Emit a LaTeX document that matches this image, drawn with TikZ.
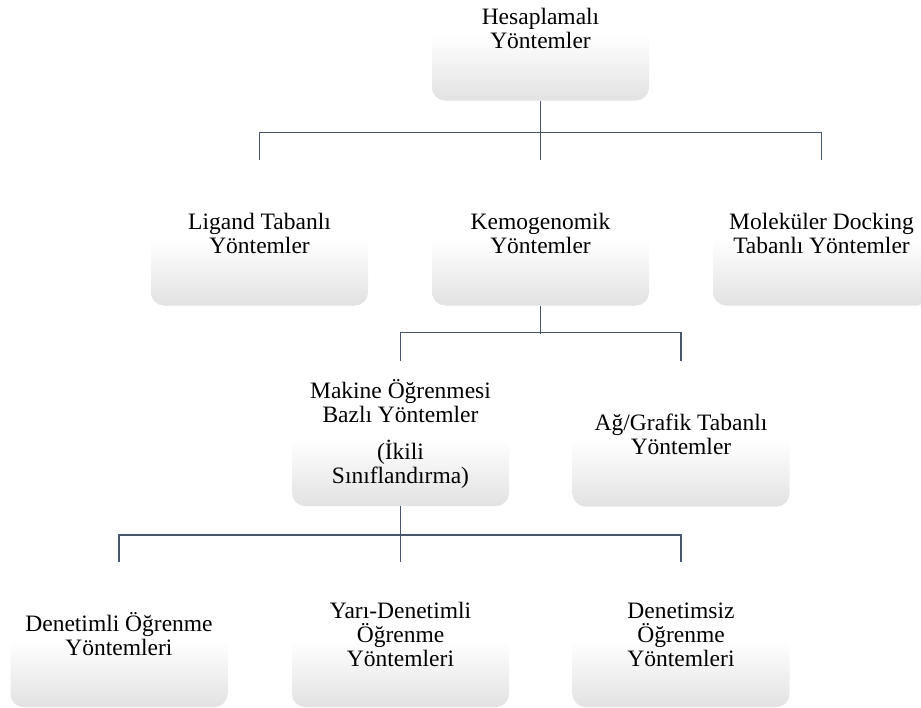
\documentclass[tikz,border=0pt]{standalone}
\usepackage{fontspec}
\setmainfont{Liberation Serif}
\definecolor{linecol}{RGB}{72,86,108}
\definecolor{boxbot}{RGB}{226,226,226}
\pgfdeclareverticalshading{boxshade}{100bp}{color(0bp)=(boxbot); color(25bp)=(boxbot); color(48bp)=(white); color(75bp)=(white); color(100bp)=(white)}
\begin{document}
\begin{tikzpicture}[x=1pt,y=-1pt,
  box/.style={rounded corners=13pt, minimum width=217pt, minimum height=145pt,
    shading=boxshade, draw=none,
    align=center, inner sep=0pt,
    font=\fontsize{23.5pt}{24pt}\selectfont},
  conn/.style={draw=linecol, line width=1.4pt}]
\useasboundingbox (0,0) rectangle (921,707);
\clip (0,0) rectangle (921,707);
\node[box] (top) at (540.5,28) {Hesaplamalı\\Yöntemler};
\node[box] (lig) at (259.5,233) {Ligand Tabanlı\\Yöntemler};
\node[box] (kem) at (540.5,233) {Kemogenomik\\Yöntemler};
\node[box] (mol) at (821.5,233) {Moleküler Docking\\Tabanlı Yöntemler};
\node[box] (mak) at (400.5,433.5) {\raisebox{-3pt}{\parbox{217pt}{\centering Makine Öğrenmesi\\Bazlı Yöntemler\\[13pt](İkili\\Sınıflandırma)}}};
\node[box] (ag) at (681,434) {Ağ/Grafik Tabanlı\\Yöntemler};
\node[box] (den) at (119,634.5) {Denetimli Öğrenme\\Yöntemleri};
\node[box] (yar) at (400.5,634.5) {Yarı-Denetimli\\Öğrenme\\Yöntemleri};
\node[box] (dsz) at (681,634.5) {Denetimsiz\\Öğrenme\\Yöntemleri};
\draw[conn] (top.south) -- (kem.north);
\draw[conn] (lig.north) -- ++(0,-28) -| (mol.north);
\draw[conn] (kem.south) -- ++(0,28.5) coordinate (kb);
\draw[conn] (mak.north) -- ++(0,-28.5) -| (ag.north);
\draw[conn] (mak.south) -- (yar.north);
\draw[conn] (den.north) -- ++(0,-27) -| (dsz.north);
\end{tikzpicture}
\end{document}
